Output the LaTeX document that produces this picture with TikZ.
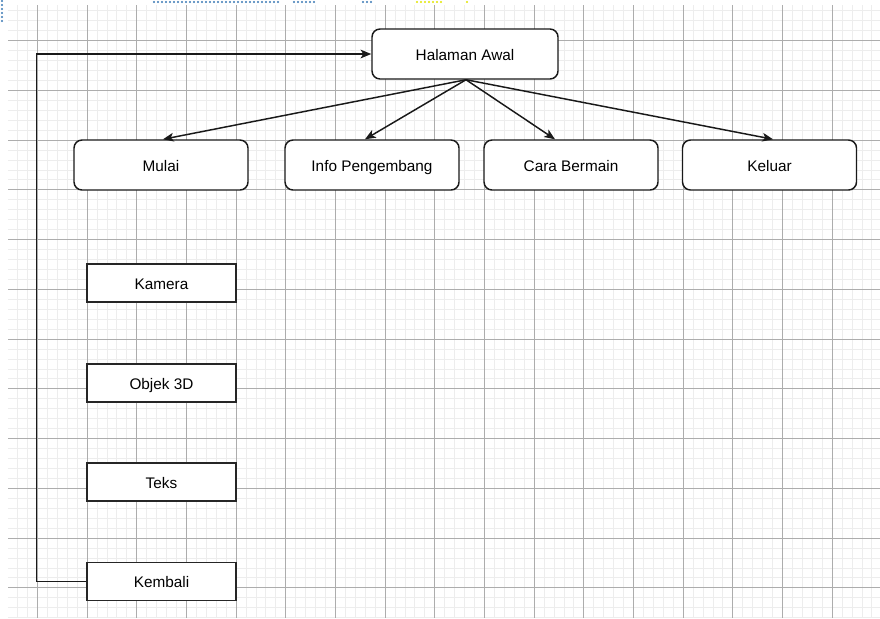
\documentclass[tikz,border=0pt]{standalone}
\usepackage{fontspec}
\setmainfont{Liberation Sans}
\usetikzlibrary{arrows.meta,calc}
\definecolor{dotblue}{HTML}{3A78B5}
\definecolor{dotyellow}{HTML}{E2E600}
\tikzset{
  minorgrid/.style={draw=black!7,line width=0.5pt},
  majorgrid/.style={draw=black!32,line width=0.7pt},
  labelfont/.style={font=\fontsize{11.5}{13}\selectfont,text height=11.5pt,text depth=2pt},
  roundbox/.style={draw=black!90,line width=1.1pt,rounded corners=6pt,fill=white,
    minimum width=130.5pt,minimum height=37.5pt,inner sep=0pt,labelfont},
  topbox/.style={roundbox,minimum width=139.5pt},
  plainbox/.style={draw=black!85,line width=1pt,fill=white,
    minimum width=111.75pt,minimum height=28.5pt,inner sep=0pt,labelfont},
  arr/.style={draw=black!90,line width=1.1pt,-{Stealth[length=8pt,width=6.5pt,inset=2pt]}},
  artdots/.style={line width=1.8pt,line cap=round,dash pattern=on 0pt off 3pt}
}
\begin{document}
\begin{tikzpicture}[x=0.75pt,y=-0.75pt]
\useasboundingbox (0,0) rectangle (880,618);
\fill[white] (0,0) rectangle (880,618);
\begin{scope}
\clip (8,5) rectangle (880,618);
\foreach \i in {-8,...,80} \draw[minorgrid] ({87+\i*9.934},5) -- ({87+\i*9.934},618);
\foreach \j in {-14,...,48} \draw[minorgrid] (8,{140+\j*9.95}) -- (880,{140+\j*9.95});
\foreach \i in {-1,...,16} \draw[majorgrid] ({87+\i*49.67},5) -- ({87+\i*49.67},618);
\foreach \j in {-2,...,9} \draw[majorgrid] (8,{140+\j*49.75}) -- (880,{140+\j*49.75});
\end{scope}
% screenshot artefact dots at the top
\draw[artdots,dotblue] (154,2) -- (280,2);
\draw[artdots,dotblue] (294,2) -- (315,2);
\draw[artdots,dotblue] (363,2) -- (374,2);
\draw[artdots,dotyellow] (417,2) -- (443,2);
\draw[artdots,dotyellow] (467,2) -- (468,2);
\draw[artdots,dotblue] (2,1) -- (2,22);

\node[topbox] (ha) at (465,54) {Halaman Awal};
\node[roundbox] (mulai) at (161,165) {Mulai};
\node[roundbox] (info) at (372,165) {Info Pengembang};
\node[roundbox] (cara) at (571,165) {Cara Bermain};
\node[roundbox] (keluar) at (769.5,165) {Keluar};
\node[plainbox] (kamera) at (161.5,283) {Kamera};
\node[plainbox] (objek) at (161.5,383) {Objek 3D};
\node[plainbox] (teks) at (161.5,482) {Teks};
\node[plainbox] (kembali) at (161.5,581.5) {Kembali};

\coordinate (hs) at ($(ha.south)+(1,0)$);
\draw[arr] (hs) -- ($(mulai.north)+(2,0)$);
\draw[arr] (hs) -- ($(info.north)+(-7,0)$);
\draw[arr] (hs) -- ($(cara.north)+(-16,0)$);
\draw[arr] (hs) -- ($(keluar.north)+(3.5,0)$);
\draw[arr] (kembali.west) -- ++(-50,0) |- (ha.west);
\end{tikzpicture}
\end{document}
